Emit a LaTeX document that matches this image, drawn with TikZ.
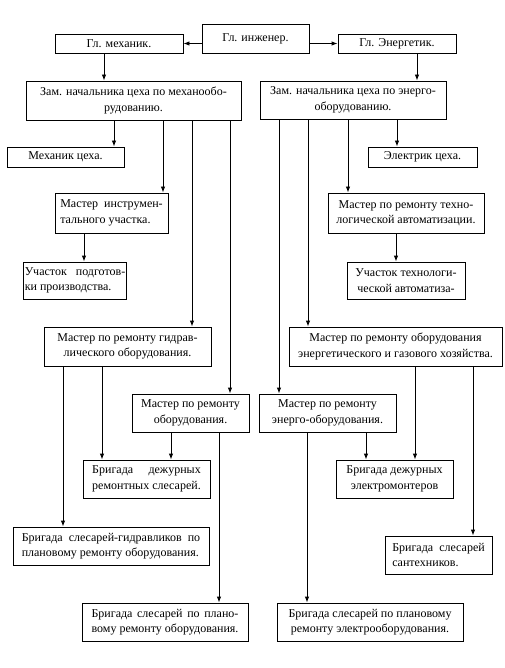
\documentclass[tikz,border=0pt]{standalone}
\usepackage{fontspec}
\setmainfont{Liberation Serif}
\usepackage{calc}
\usetikzlibrary{arrows.meta}
\newcommand\jtwo[2]{\makebox[\widthof{#2}][s]{#1}\\#2}
\newcommand\bx[7][]{\node[box,#1,minimum width={#4pt-#3pt},minimum height={#6pt-#5pt}] (#2) at ({(#3+#4)/2},{(#5+#6)/2}) {#7};}
\newcommand\vl[3]{\draw[arr] (#3,0 |- #1.south) -- (#3,0 |- #2.north);}
\begin{document}
\begin{tikzpicture}[x=1pt,y=-1pt,
  font=\fontsize{12}{15.5}\selectfont,
  box/.style={draw, line width=0.9pt, inner sep=1pt, align=center},
  arr/.style={line width=0.9pt, -{Latex[length=6pt,width=4.5pt]}}]
\useasboundingbox (0,0) rectangle (504,668);
\bx{ing}{202}{309}{24}{53}{Гл. инженер.}
\bx{mech}{55}{183}{34}{53}{Гл. механик.}
\bx{energ}{338}{456}{34}{53}{Гл. Энергетик.}
\bx{zm}{26}{241}{81}{120}{Зам. начальника цеха по механообо-\\рудованию.}
\bx{ze}{260}{446}{81}{119}{Зам. начальника цеха по энерго-\\оборудованию.}
\bx{mc}{7}{124}{147}{167}{Механик цеха.}
\bx{ec}{368}{477}{147}{167}{Электрик цеха.}
\bx[align=left]{mi}{55}{168}{193}{233}{Мастер~ инструмен-\\тального участка.}
\bx{mt}{328}{484}{193}{233}{Мастер по ремонту техно-\\логической автоматизации.}
\bx[align=left]{up}{26}{124}{262}{299}{Участок~~ подготов-\\ки производства.}
\bx{ut}{347}{465}{262}{299}{Участок технологи-\\ческой автоматиза-}
\bx{mg}{44}{211}{327}{366}{Мастер по ремонту гидрав-\\лического оборудования.}
\bx{meg}{289}{502}{327}{366}{Мастер по ремонту оборудования\\энергетического и газового хозяйства.}
\bx{mo}{132}{249}{394}{432}{Мастер по ремонту\\оборудования.}
\bx{me}{259}{396}{394}{432}{Мастер по ремонту\\энерго-оборудования.}
\bx[align=left]{bdr}{83}{210}{460}{498}{\jtwo{Бригада дежурных}{ремонтных слесарей.}}
\bx{bde}{336}{453}{460}{498}{Бригада дежурных\\электромонтеров}
\bx[align=left]{bsg}{13}{209}{527}{565}{Бригада~ слесарей-гидравликов~ по\\плановому ремонту оборудования.}
\bx[align=left]{bss}{385}{492}{536}{574}{Бригада~ слесарей\\сантехников.}
\bx[align=left]{bpo}{82}{248}{603}{641}{\jtwo{Бригада слесарей по плано-}{вому ремонту оборудования.}}
\bx{bpe}{277}{463}{603}{641}{Бригада слесарей по плановому\\ремонту электрооборудования.}
\draw[arr] (ing.west |- mech.east) -- (mech.east);
\draw[arr] (ing.east |- energ.west) -- (energ.west);
\vl{mech}{zm}{104}
\vl{energ}{ze}{417}
\vl{zm}{mc}{114}
\vl{zm}{mi}{163}
\vl{zm}{mg}{192}
\vl{zm}{mo}{230}
\vl{ze}{me}{279}
\vl{ze}{meg}{308}
\vl{ze}{mt}{348}
\vl{ze}{ec}{397}
\vl{mi}{up}{84}
\vl{mt}{ut}{396}
\vl{mg}{bsg}{63}
\vl{mg}{bdr}{102}
\vl{mo}{bdr}{171}
\vl{mo}{bpo}{219}
\vl{me}{bpe}{307}
\vl{me}{bde}{366}
\vl{meg}{bde}{415}
\vl{meg}{bss}{473}
\end{tikzpicture}
\end{document}
